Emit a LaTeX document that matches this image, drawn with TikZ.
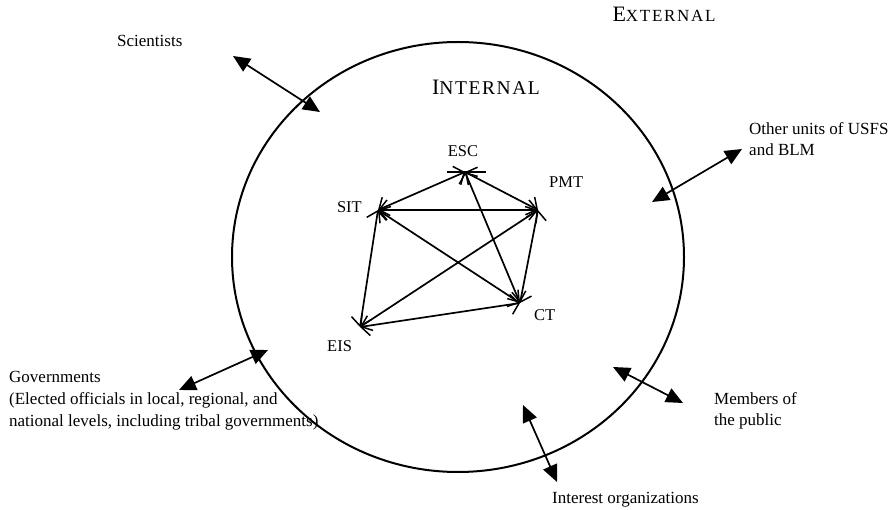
\documentclass[tikz,border=0pt]{standalone}
\usepackage{fontspec}
\setmainfont{Liberation Serif}
\usetikzlibrary{arrows.meta}
\tikzset{
  lbl/.style={font=\fontsize{17}{21}\selectfont, inner sep=0pt, align=left},
  govlbl/.style={font=\fontsize{17}{22}\selectfont, inner sep=0pt, align=left},
  ilbl/.style={font=\fontsize{16.5}{20}\selectfont, inner sep=0pt},
  outarrow/.style={line width=1.7pt, {Triangle[length=17pt,width=15pt]}-{Triangle[length=17pt,width=15pt]}},
  inarrow/.style={line width=1.7pt, {Straight Barb[length=8pt,width=20pt,line width=1.5pt]}-{Straight Barb[length=8pt,width=20pt,line width=1.5pt]}},
  ring/.style={line width=2pt}
}
\begin{document}
\begin{tikzpicture}[x=1pt,y=-1pt]
\useasboundingbox (0,0) rectangle (889,510);
% ring
\draw[ring] (458,257) ellipse [x radius=226pt, y radius=215pt];
% titles
\node[anchor=base, inner sep=0pt] (ext) at (664,22) {\fontsize{22}{24}\selectfont E\fontsize{17}{20}\selectfont\addfontfeature{LetterSpace=10}XTERNAL};
\node[anchor=base, inner sep=0pt] (int) at (486,95) {\fontsize{22}{24}\selectfont I\fontsize{19.5}{22}\selectfont\addfontfeature{LetterSpace=8}NTERNAL};
% inner junctions
\coordinate (esc) at (465,172);
\coordinate (sit) at (378,210);
\coordinate (pmt) at (538,210);
\coordinate (ct) at (520,303);
\coordinate (eis) at (360,327);
\node[ilbl, anchor=base] (escl) at (463,157) {ESC};
\node[ilbl, anchor=base west] (pmtl) at (549,188) {PMT};
\node[ilbl, anchor=base east] (sitl) at (362,213) {SIT};
\node[ilbl, anchor=base west] (ctl) at (534,321) {CT};
\node[ilbl, anchor=base west] (eisl) at (327,352) {EIS};
\draw[line width=1.7pt] (447,172) -- (486,172);
\draw[inarrow] (esc) -- (sit);
\draw[inarrow] (esc) -- (pmt);
\draw[inarrow] (esc) -- (ct);
\draw[inarrow] (sit) -- (pmt);
\draw[inarrow] (sit) -- (ct);
\draw[inarrow] (sit) -- (eis);
\draw[inarrow] (pmt) -- (eis);
\draw[inarrow] (pmt) -- (ct);
\draw[inarrow] (eis) -- (ct);
% external labels (base anchor = last line)
\node[lbl, anchor=base west] (sci) at (117,47) {Scientists};
\node[lbl, anchor=base west] (oth) at (749,156) {Other units of USFS\\and BLM};
\node[govlbl, anchor=base west] (gov) at (9,427) {Governments\\(Elected officials in local, regional, and\\national levels, including tribal governments)};
\node[lbl, anchor=base west] (mem) at (714,426) {Members of\\the public};
\node[lbl, anchor=base west] (intorg) at (552,503) {Interest organizations};
% external arrows
\coordinate (sciA) at (233,56);
\coordinate (sciB) at (320,112);
\coordinate (othA) at (652,202);
\coordinate (othB) at (742,149);
\coordinate (govA) at (268,350);
\coordinate (govB) at (179,390);
\coordinate (memA) at (613,367);
\coordinate (memB) at (683,403);
\coordinate (intA) at (523,405);
\coordinate (intB) at (557,482);
\draw[outarrow] (sciA) -- (sciB);
\draw[outarrow] (othA) -- (othB);
\draw[outarrow] (govA) -- (govB);
\draw[outarrow] (memA) -- (memB);
\draw[outarrow] (intA) -- (intB);
\end{tikzpicture}
\end{document}
